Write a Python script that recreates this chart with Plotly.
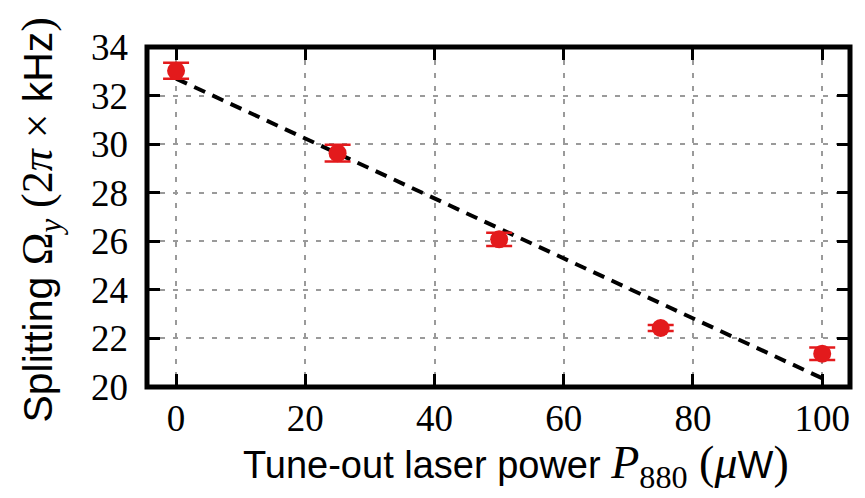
import plotly.graph_objects as go

# Measured splitting vs tune-out laser power
power_uW = [0, 25, 50, 75, 100]
splitting_kHz = [33.02, 29.63, 26.08, 22.43, 21.37]
splitting_err = [0.33, 0.34, 0.27, 0.12, 0.26]

# Linear fit endpoints
fit_x = [0, 100]
fit_y = [32.7, 20.36]

x_ticks = [0, 20, 40, 60, 80, 100]
y_ticks = [20, 22, 24, 26, 28, 30, 32, 34]

RED = "#e31a1c"
SERIF = "Liberation Serif"
SANS = "Liberation Sans"

fig = go.Figure()

fig.add_trace(go.Scatter(
    x=fit_x, y=fit_y, mode="lines",
    line=dict(color="black", width=4, dash="12px,8px"),
    showlegend=False, hoverinfo="skip",
))

fig.add_trace(go.Scatter(
    x=power_uW, y=splitting_kHz, mode="markers",
    marker=dict(color=RED, size=18, line=dict(width=0)),
    error_y=dict(type="data", array=splitting_err, visible=True,
                 color=RED, thickness=2.5, width=13),
    showlegend=False,
))

axis_common = dict(
    showgrid=True, gridcolor="#9a9a9a", gridwidth=1.6, griddash="5px,8px",
    zeroline=False, showline=False,
    ticks="inside", ticklen=13, tickwidth=2.5, tickcolor="black",
    mirror="ticks",
    tickfont=dict(family=SERIF, size=37, color="black"),
)

fig.update_xaxes(range=[-4.5, 104.3], tickvals=x_ticks,
                 ticktext=[str(v) for v in x_ticks],
                 ticklabelstandoff=6, **axis_common)
fig.update_yaxes(range=[20, 34], tickvals=y_ticks,
                 ticktext=[str(v) for v in y_ticks],
                 ticklabelstandoff=18, **axis_common)

# Heavy frame around the plotting area
fig.add_shape(type="rect", xref="paper", yref="paper", x0=0, x1=1, y0=0, y1=1,
              line=dict(color="black", width=5), layer="above")


def math(s, size=46):
    return f"<span style='font-family:{SERIF};font-size:{size}px'>{s}</span>"


xlabel = ("Tune-out laser power "
          + math("<i>P</i><sub>880</sub> (<i>μ</i>")
          + "W" + math(")"))
ylabel = ("Splitting "
          + math("Ω<sub><i>y</i></sub> (2<i>π</i> × ", 44)
          + "kHz" + math(")", 44))

fig.add_annotation(text=xlabel, xref="paper", yref="paper", x=0.525, y=-0.232,
                   showarrow=False, xanchor="center", yanchor="middle",
                   font=dict(family=SANS, size=38, color="black"))
fig.add_annotation(text=ylabel, xref="paper", yref="paper", x=-0.152, y=0.49,
                   showarrow=False, xanchor="center", yanchor="middle", textangle=-90,
                   font=dict(family=SANS, size=41, color="black"))

fig.update_layout(
    width=865, height=498,
    margin=dict(l=147, r=15, t=47, b=111),
    plot_bgcolor="white", paper_bgcolor="white",
)

fig.write_html("out.html")
